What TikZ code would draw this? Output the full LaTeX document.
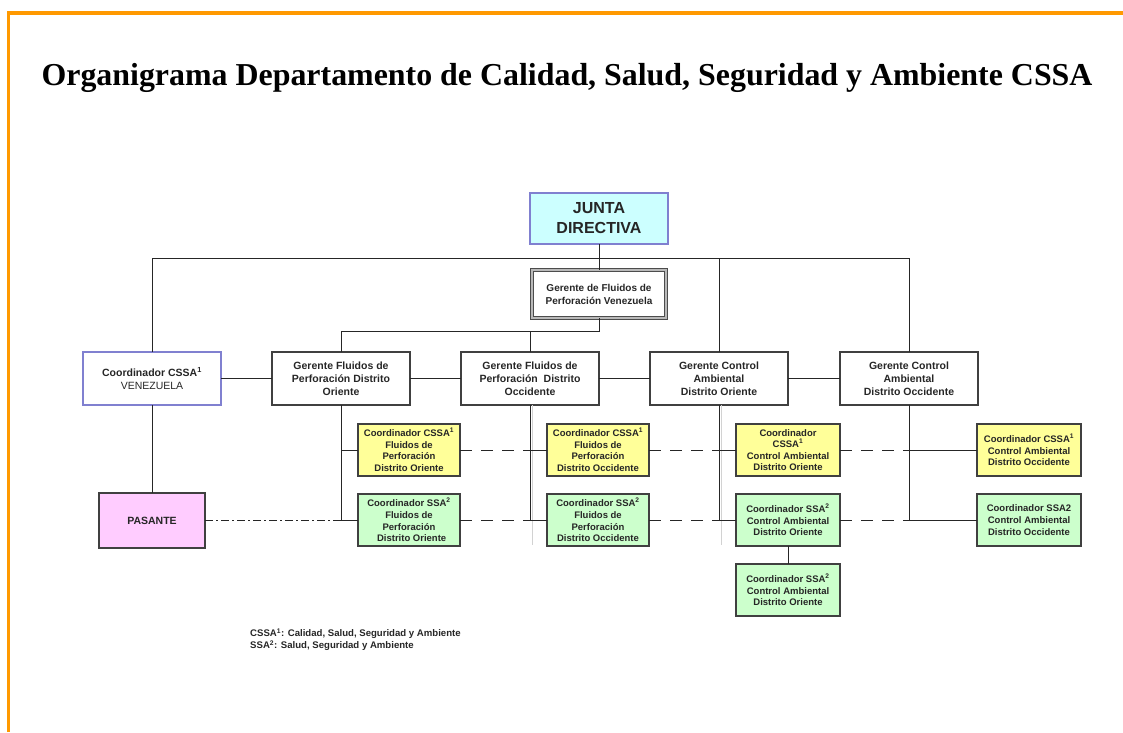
\documentclass[tikz,border=0pt]{standalone}
\usepackage{fontspec}
\setmainfont{Liberation Serif}
\newfontfamily\arialf{Liberation Sans}
\usetikzlibrary{calc}
\definecolor{orng}{HTML}{FF9900}
\definecolor{yel}{HTML}{FFFF99}
\definecolor{grn}{HTML}{CCFFCC}
\definecolor{pnk}{HTML}{FFCCFF}
\definecolor{cyn}{HTML}{CCFFFF}
\definecolor{blu}{HTML}{8080D0}
\begin{document}
\begin{tikzpicture}[x=1pt,y=-1pt,
  box/.style={draw=black!75, line width=1.1pt, inner sep=0pt, outer sep=0pt, align=center, text=black!85},
  mgr/.style={box, minimum width=138pt, minimum height=53pt, font=\arialf\bfseries\fontsize{10.5}{13}\selectfont},
  coord/.style={box, minimum width=102pt, minimum height=52pt, font=\arialf\bfseries\fontsize{9.5}{11.6}\selectfont},
  ybox/.style={coord, fill=yel},
  gbox/.style={coord, fill=grn},
  conn/.style={draw=black!85, line width=1pt},
  dsh/.style={conn, dash pattern=on 12pt off 9pt},
  dshdot/.style={conn, dash pattern=on 8pt off 3pt on 2pt off 3pt}
]
\useasboundingbox (0,0) rectangle (1123,732);
\draw[orng, line width=3.5pt] (8.5,732) -- (8.5,13) -- (1123,13);

\node[anchor=base west, font=\bfseries\fontsize{31.9}{38}\selectfont] (title) at (38,85)
  {Organigrama Departamento de Calidad, Salud, Seguridad y Ambiente CSSA};

\node[box, draw=blu, fill=cyn, minimum width=138pt, minimum height=51pt,
  font=\arialf\bfseries\fontsize{16}{20}\selectfont] (junta) at (599,218.5) {JUNTA\\DIRECTIVA};
\node[mgr, draw=black!70, line width=1pt, double=gray!55, double distance=2pt,
  minimum width=134pt, minimum height=48pt, font=\arialf\bfseries\fontsize{10}{13}\selectfont]
  (gfv) at (599,294) {Gerente de Fluidos de\\Perforación Venezuela};

\node[mgr, draw=blu, font=\arialf\fontsize{10.5}{13}\selectfont] (cv) at (152,378.5)
  {\textbf{Coordinador CSSA\textsuperscript{1}}\\VENEZUELA};
\node[mgr] (gfo) at (341,378.5) {Gerente Fluidos de\\Perforación Distrito\\Oriente};
\node[mgr] (gfoc) at (530,378.5) {Gerente Fluidos de\\Perforación\ \ Distrito\\Occidente};
\node[mgr] (gco) at (719,378.5) {Gerente Control\\Ambiental\\Distrito Oriente};
\node[mgr] (gcoc) at (909,378.5) {Gerente Control\\Ambiental\\Distrito Occidente};

\node[ybox] (y1) at (409,450) {Coordinador CSSA\textsuperscript{1}\\Fluidos de\\Perforación\\Distrito Oriente};
\node[ybox] (y2) at (598,450) {Coordinador CSSA\textsuperscript{1}\\Fluidos de\\Perforación\\Distrito Occidente};
\node[ybox, minimum width=104pt] (y3) at (788,450) {Coordinador\\CSSA\textsuperscript{1}\\Control Ambiental\\Distrito Oriente};
\node[ybox, minimum width=104pt] (y4) at (1029,450) {Coordinador CSSA\textsuperscript{1}\\Control Ambiental\\Distrito Occidente};

\node[gbox] (g1) at (409,520) {Coordinador SSA\textsuperscript{2}\\Fluidos de\\Perforación\\\ \ Distrito Oriente};
\node[gbox] (g2) at (598,520) {Coordinador SSA\textsuperscript{2}\\Fluidos de\\Perforación\\Distrito Occidente};
\node[gbox, minimum width=104pt] (g3) at (788,520) {Coordinador SSA\textsuperscript{2}\\Control Ambiental\\Distrito Oriente};
\node[gbox, minimum width=104pt] (g4) at (1029,520) {Coordinador SSA2\\Control Ambiental\\Distrito Occidente};
\node[gbox, minimum width=104pt] (g5) at (788,590) {Coordinador SSA\textsuperscript{2}\\Control Ambiental\\Distrito Oriente};

\node[box, fill=pnk, minimum width=106pt, minimum height=55pt,
  font=\arialf\bfseries\fontsize{10.5}{13}\selectfont] (pas) at (152,520.5) {PASANTE};

\node[anchor=north west, align=left, inner sep=0pt, text=black!85,
  font=\arialf\bfseries\fontsize{9.6}{12}\selectfont] (legend) at (250,628.5)
  {CSSA\textsuperscript{1}: Calidad, Salud, Seguridad y Ambiente\\SSA\textsuperscript{2}: Salud, Seguridad y Ambiente};

% connectors
\coordinate (hbar) at (0,258);
\coordinate (hbar2) at (0,331);
\draw[conn] (junta.south) -- (gfv.north);
\draw[conn] (cv.north) -- (cv.north |- hbar) -- (gcoc.north |- hbar) -- (gcoc.north);
\draw[conn] (gco.north |- hbar) -- (gco.north);
\draw[conn] (gfv.south) -- (gfv.south |- hbar2) -- (gfo.north |- hbar2) -- (gfo.north);
\draw[conn] (gfoc.north |- hbar2) -- (gfoc.north);

\draw[conn] (cv.east) -- (gfo.west);
\draw[conn] (gfo.east) -- (gfoc.west);
\draw[conn] (gfoc.east) -- (gco.west);
\draw[conn] (gco.east) -- (gcoc.west);
\draw[conn] (cv.south) -- (pas.north);

\draw[gray!35, line width=0.8pt] ($(gfoc.south)+(2,0)$) -- ++(0,140);
\draw[gray!35, line width=0.8pt] ($(gco.south)+(2,0)$) -- ++(0,140);

\draw[conn] (gfo.south) -- (gfo.south |- g1.west) -- (g1.west);
\draw[conn] (gfo.south |- y1.west) -- (y1.west);
\draw[conn] (gfoc.south) -- (gfoc.south |- g2.west) -- (g2.west);
\draw[conn] (gfoc.south |- y2.west) -- (y2.west);
\draw[conn] (gco.south) -- (gco.south |- g3.west) -- (g3.west);
\draw[conn] (gco.south |- y3.west) -- (y3.west);
\draw[conn] (gcoc.south) -- (gcoc.south |- g4.west) -- (g4.west);
\draw[conn] (gcoc.south |- y4.west) -- (y4.west);
\draw[conn] (g3.south) -- (g5.north);

\draw[dsh] (y1.east) -- (y1.east -| gfoc.south);
\draw[dsh] (y2.east) -- (y2.east -| gco.south);
\draw[dsh] (y3.east) -- (y3.east -| gcoc.south);
\draw[dsh] (g1.east) -- (g1.east -| gfoc.south);
\draw[dsh] (g2.east) -- (g2.east -| gco.south);
\draw[dsh] (g3.east) -- (g3.east -| gcoc.south);
\draw[dshdot] (pas.east |- g1.west) -- (g1.west -| gfo.south);
\end{tikzpicture}
\end{document}
